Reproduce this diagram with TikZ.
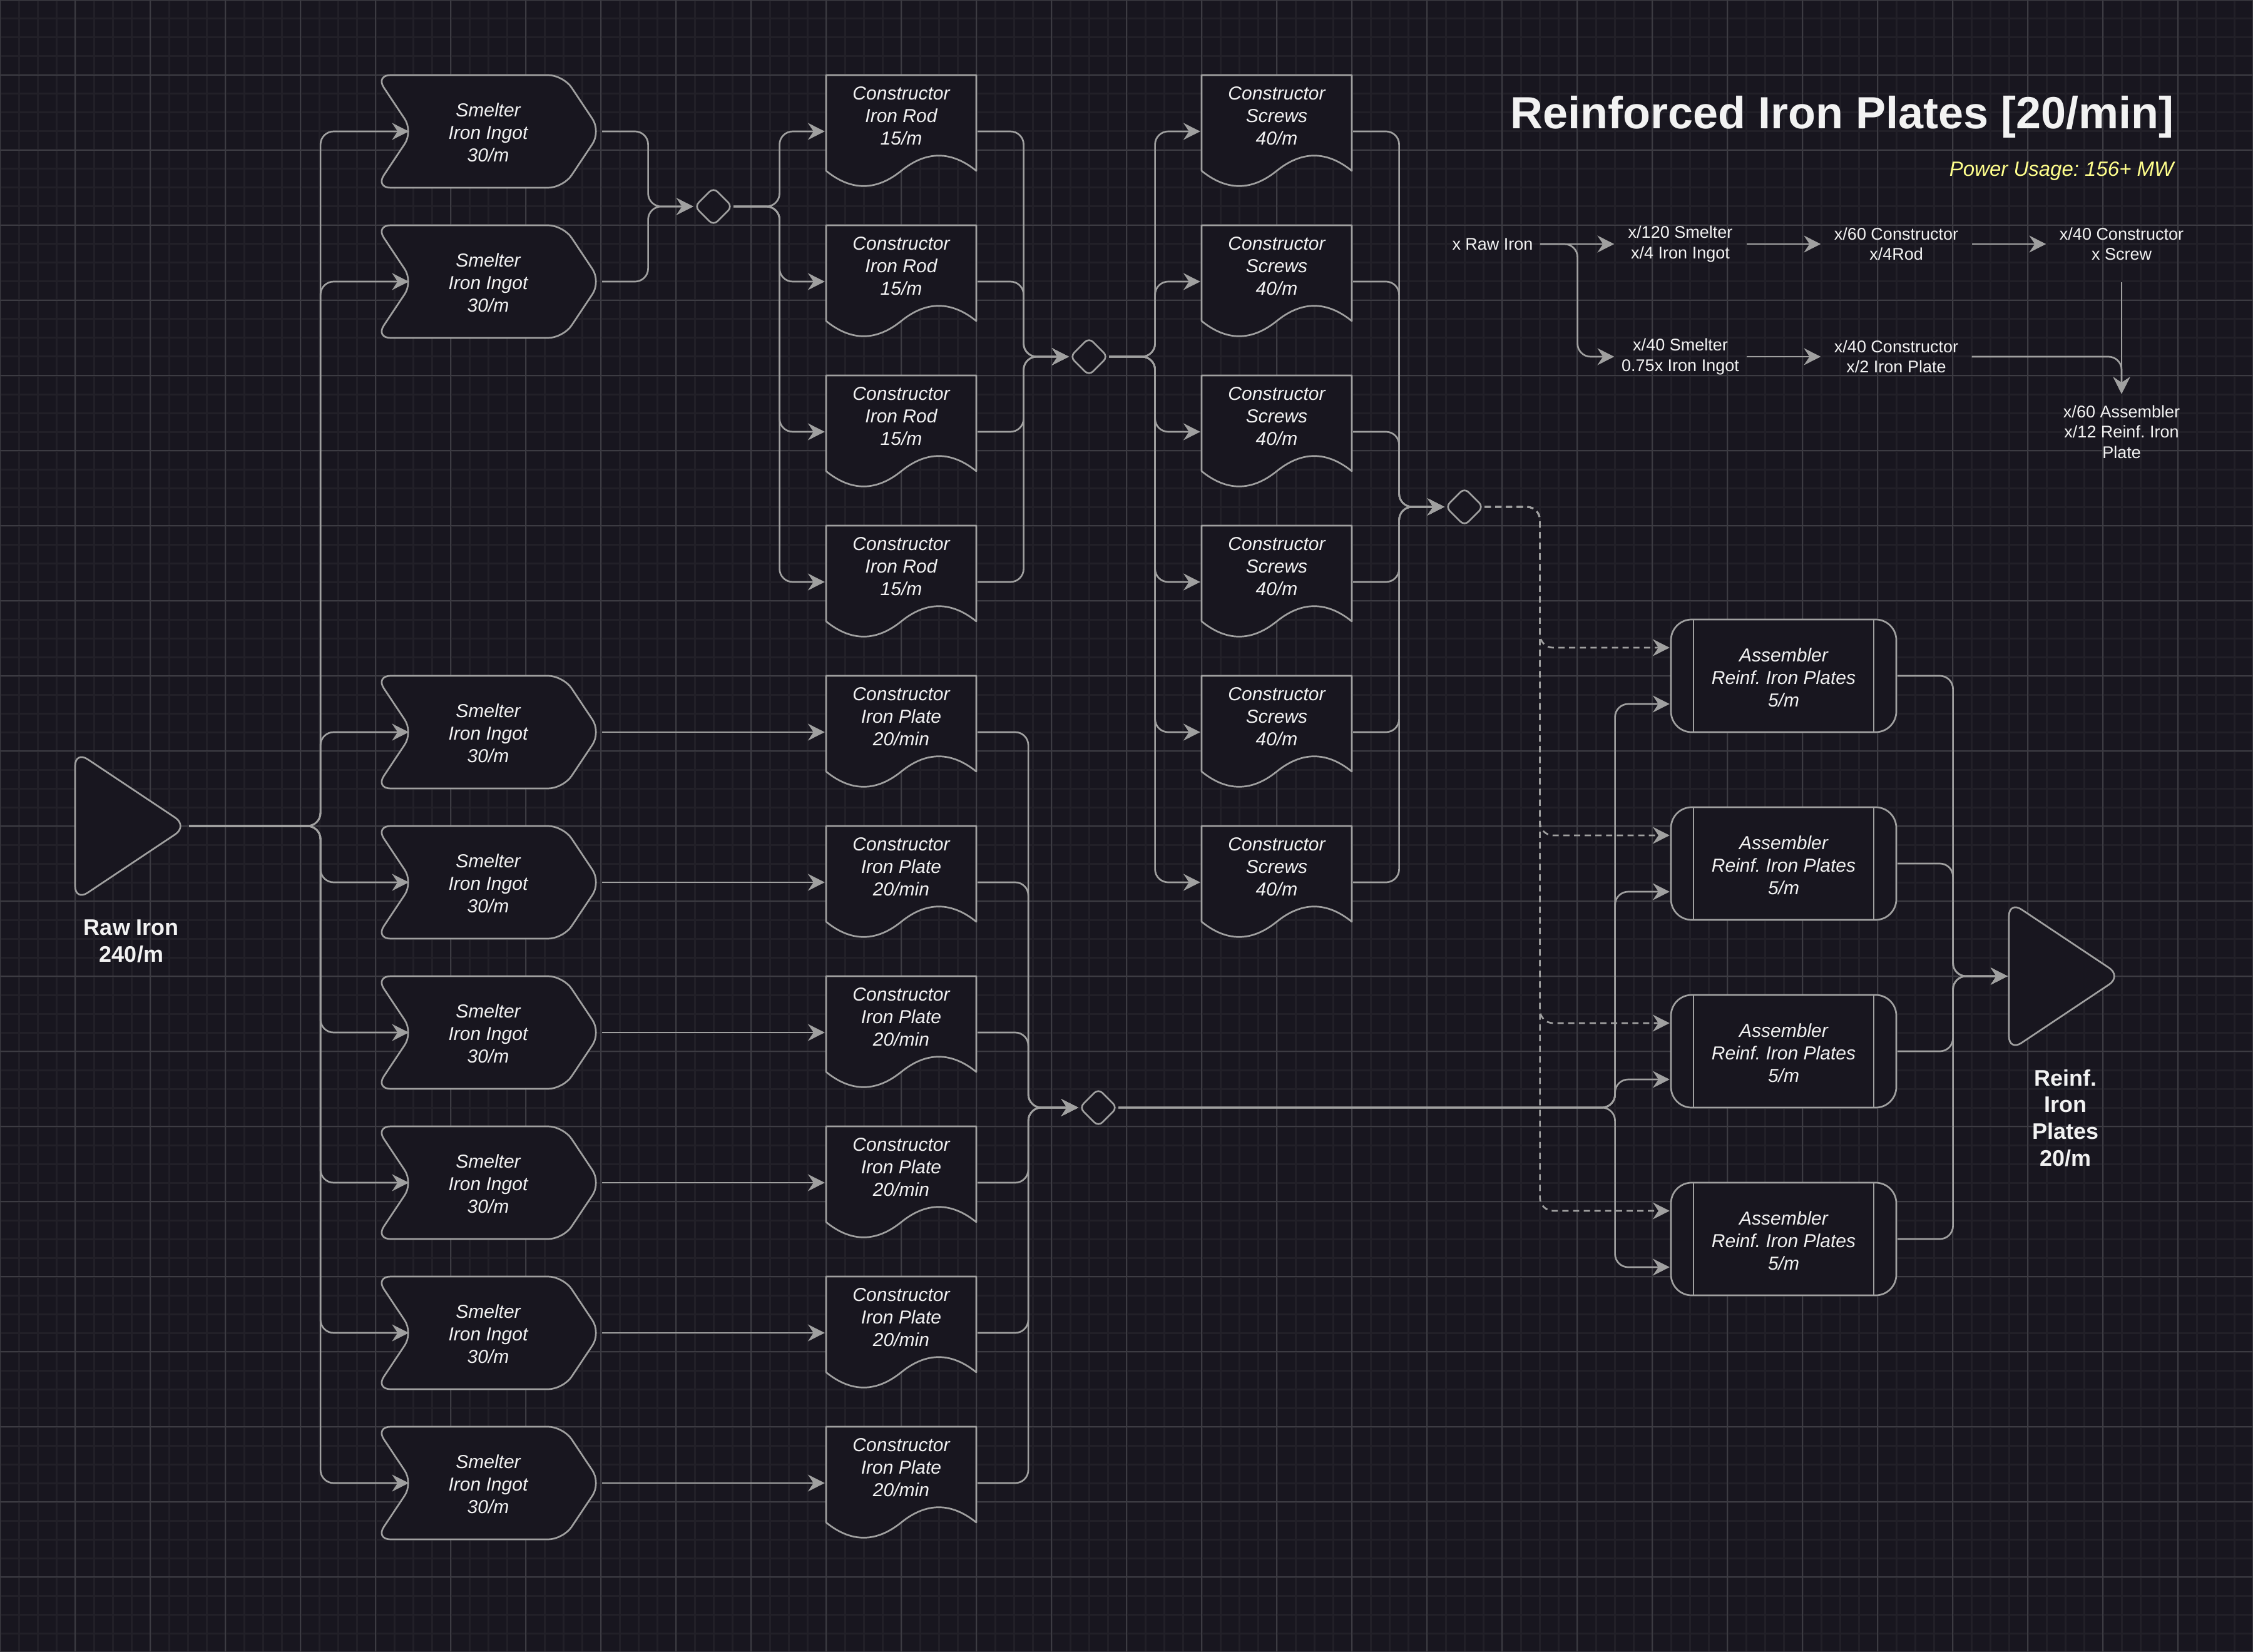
\documentclass[tikz,border=0pt]{standalone}
\usepackage{fontspec}
\setmainfont{Liberation Sans}
\usetikzlibrary{arrows.meta}
\definecolor{bgc}{RGB}{24,22,31}
\definecolor{gridminor}{RGB}{34,32,40}
\definecolor{gridmajor}{RGB}{60,59,66}
\definecolor{linec}{RGB}{160,160,160}
\definecolor{txtc}{RGB}{242,242,242}
\definecolor{powc}{RGB}{255,255,140}
\tikzset{
  shapeline/.style={draw=linec, line width=0.9pt, fill=bgc, line join=round},
  nodetext/.style={text=txtc, font=\fontsize{10}{12}\selectfont\itshape\frenchspacing, align=center, inner sep=0pt},
  smelter/.style={minimum width=121pt, minimum height=61pt, inner sep=0pt,
    path picture={\draw[shapeline, rounded corners=8pt, shift={(path picture bounding box.center)}]
      (0,-30) -- (40,-30) -- (60,0) -- (40,30) -- (-60,30) -- (-40,0) -- (-60,-30) -- cycle;},
    label={[nodetext, yshift=-0.7pt]center:{#1}}},
  doc/.style={minimum width=81pt, minimum height=61pt, inner sep=0pt,
    path picture={\draw[shapeline, shift={(path picture bounding box.center)}]
      (-40,-30) -- (40,-30) -- (40,21) .. controls (26.667,10.2) and (13.333,10.2) .. (0,21)
      .. controls (-13.333,31.8) and (-26.667,31.8) .. (-40,21) -- cycle;},
    label={[nodetext, yshift=8.3pt]center:{#1}}},
  assembler/.style={minimum width=121pt, minimum height=61pt, inner sep=0pt,
    path picture={
      \draw[shapeline, rounded corners=11pt, shift={(path picture bounding box.center)}] (-60,-30) rectangle (60,30);
      \draw[draw=linec, line width=0.9pt, shift={(path picture bounding box.center)}] (-48,-30) -- (-48,30) (48,-30) -- (48,30);},
    label={[nodetext, yshift=-0.8pt]center:{#1}}},
  junction/.style={minimum width=21pt, minimum height=21pt, inner sep=0pt,
    path picture={\draw[shapeline, rounded corners=3pt, shift={(path picture bounding box.center)}]
      (5,-5) -- (10,0) -- (0,10) -- (-10,0) -- (0,-10) -- cycle;}},
  endpoint/.style={minimum width=61pt, minimum height=81pt, inner sep=0pt,
    path picture={\draw[shapeline, rounded corners=8pt, shift={(path picture bounding box.center)}]
      (-30,0) -- (-30,-40) -- (30,0) -- (-30,40) -- cycle;}},
  conn/.style={draw=linec, line width=0.9pt, rounded corners=7pt, -{Stealth[length=9pt,width=9pt,inset=3pt]}},
  dashconn/.style={conn, dash pattern=on 3.3pt off 2.4pt},
  legend/.style={text=txtc, font=\fontsize{9}{10.8}\selectfont\frenchspacing, align=center, inner sep=0pt, minimum height=40pt},
  biglabel/.style={text=txtc, font=\fontsize{12}{14.2}\selectfont\bfseries\frenchspacing, align=center, inner sep=0pt},
}
\begin{document}
\begin{tikzpicture}[x=1pt, y=-1pt]
\useasboundingbox (0,0) rectangle (1200,880);
\fill[bgc] (0,0) rectangle (1200,880);
\draw[gridminor, line width=1pt] (0,0) grid[step=10pt] (1200,880);
\draw[gridmajor, line width=0.4pt] (0,0) grid[step=40pt] (1200,880);

% title
\node[text=txtc, font=\fontsize{24}{28}\selectfont\bfseries, anchor=base east, inner sep=0pt] (title) at (1158,68.6) {Reinforced Iron Plates [20/min]};
\node[text=powc, font=\fontsize{11}{13}\selectfont\itshape\frenchspacing, anchor=base east, inner sep=0pt] (power) at (1158,94) {Power Usage: 156+ MW};

% endpoints
\node[endpoint] (raw) at (70,440) {};
\node[biglabel] (rawlbl) at (70,501.3) {Raw Iron\\240/m};
\node[endpoint] (out) at (1100,520) {};
\node[biglabel] (outlbl) at (1100,595.5) {Reinf.\\Iron\\Plates\\20/m};

% smelters
\foreach \n/\y in {1/70,2/150,3/390,4/470,5/550,6/630,7/710,8/790}
  \node[smelter={Smelter\\Iron Ingot\\30/m}] (s\n) at (260,\y) {};
% rod constructors
\foreach \n/\y in {1/70,2/150,3/230,4/310}
  \node[doc={Constructor\\Iron Rod\\15/m}] (r\n) at (480,\y) {};
% plate constructors
\foreach \n/\y in {1/390,2/470,3/550,4/630,5/710,6/790}
  \node[doc={Constructor\\Iron Plate\\20/min}] (p\n) at (480,\y) {};
% screw constructors
\foreach \n/\y in {1/70,2/150,3/230,4/310,5/390,6/470}
  \node[doc={Constructor\\Screws\\40/m}] (w\n) at (680,\y) {};
% assemblers
\foreach \n/\y in {1/360,2/460,3/560,4/660}
  \node[assembler={Assembler\\Reinf. Iron Plates\\5/m}] (a\n) at (950,\y) {};
% junctions
\node[junction] (d1) at (380,110) {};
\node[junction] (d2) at (580,190) {};
\node[junction] (d3) at (780,270) {};
\node[junction] (d4) at (585,590) {};

% connectors
\foreach \n in {1,...,8}
  \draw[conn] (raw.east) -- ++(70,0) |- ([xshift=18.5pt]s\n.west);
\foreach \n in {1,2}
  \draw[conn] (s\n.east) -- ++(24.5,0) |- (d1.west);
\foreach \n in {1,...,4}
  \draw[conn] (d1.east) -- ++(24.5,0) |- (r\n.west);
\foreach \n in {1,...,4}
  \draw[conn] (r\n.east) -- ++(24.5,0) |- (d2.west);
\foreach \n in {1,...,6}
  \draw[conn] (d2.east) -- ++(24.5,0) |- (w\n.west);
\foreach \n in {1,...,6}
  \draw[conn] (w\n.east) -- ++(24.5,0) |- (d3.west);
\foreach \n in {1,...,4}
  \draw[dashconn] (d3.east) -- ++(29.5,0) |- ([yshift=15pt]a\n.west);
\foreach \n/\m in {3/1,4/2,5/3,6/4,7/5,8/6}
  \draw[conn] (s\n.east) -- (p\m.west);
\foreach \n in {1,...,6}
  \draw[conn] (p\n.east) -- ++(27,0) |- (d4.west);
\foreach \n in {1,...,4}
  \draw[conn] (d4.east) -- ++(264.5,0) |- ([yshift=-15pt]a\n.west);
\foreach \n in {1,...,4}
  \draw[conn] (a\n.east) -- ++(29.5,0) |- (out.west);

% legend
\node[legend, minimum width=50pt] (lx0) at (795,130) {x Raw Iron};
\node[legend, minimum width=70pt] (lx1) at (895,130) {x/120 Smelter\\x/4 Iron Ingot};
\node[legend, minimum width=80pt] (lx2) at (1010,130) {x/60 Constructor\\x/4Rod};
\node[legend, minimum width=80pt] (lx3) at (1130,130) {x/40 Constructor\\x Screw};
\node[legend, minimum width=70pt] (ly1) at (895,190) {x/40 Smelter\\0.75x Iron Ingot};
\node[legend, minimum width=80pt] (ly2) at (1010,190) {x/40 Constructor\\x/2 Iron Plate};
\node[legend, minimum width=80pt] (lz) at (1130,230) {x/60 Assembler\\x/12 Reinf. Iron\\Plate};
\draw[conn] (lx0.east) -- (lx1.west);
\draw[conn] (lx0.east) -- ++(20,0) |- (ly1.west);
\draw[conn] (lx1.east) -- (lx2.west);
\draw[conn] (lx2.east) -- (lx3.west);
\draw[conn] (ly1.east) -- (ly2.west);
\draw[conn] (ly2.east) -| (lz.north);
\draw[conn] (lx3.south) -- (lz.north);
\end{tikzpicture}
\end{document}
